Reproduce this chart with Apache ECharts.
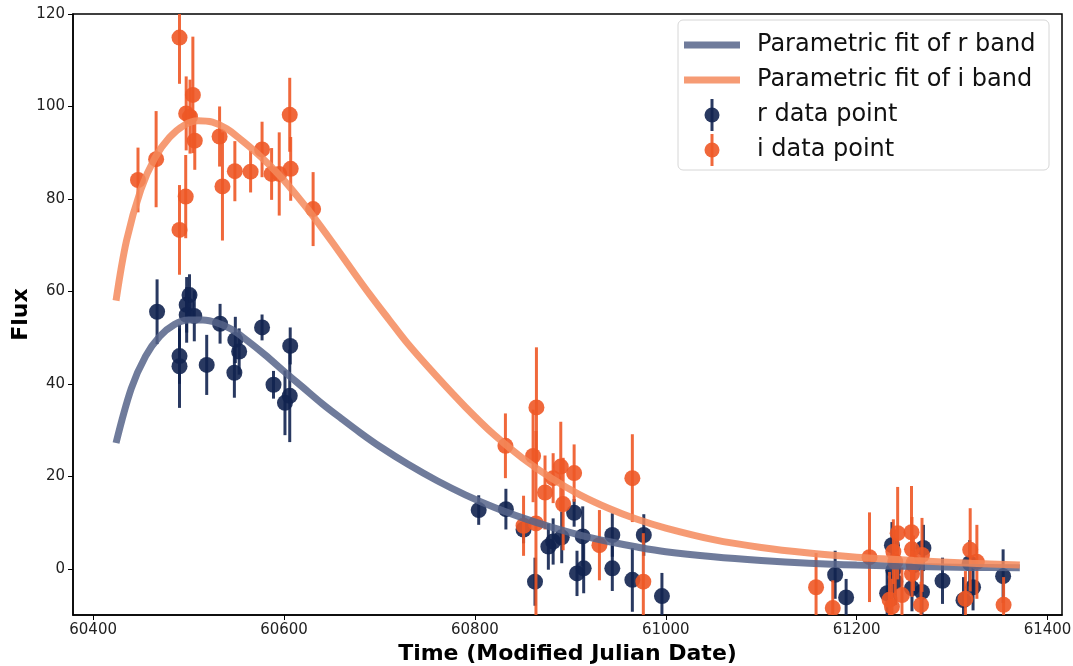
<!DOCTYPE html>
<html>
<head>
<meta charset="utf-8">
<title>Flux light curve</title>
<script src="https://cdn.jsdelivr.net/npm/echarts@6/dist/echarts.min.js"></script>
<style>
  html, body { margin: 0; padding: 0; background: #fff; }
  #chart { width: 1073px; height: 666px; }
</style>
</head>
<body>
<div id="chart"></div>
<script>
// parametric fits
const rFitTime = [60424, 60440, 60455, 60470, 60485, 60500, 60515, 60530, 60545, 60560, 60580, 60600, 60620, 60640, 60660, 60680, 60700, 60730, 60760, 60790, 60820, 60850, 60880, 60910, 60940, 60970, 61000, 61050, 61100, 61150, 61200, 61260, 61320, 61371]
const rFitFlux = [27.2, 39.0, 46.0, 50.3, 52.8, 53.8, 53.8, 53.2, 51.8, 49.6, 46.3, 42.7, 39.2, 35.7, 32.5, 29.4, 26.5, 22.6, 19.1, 16.0, 13.3, 11.0, 9.0, 7.3, 5.9, 4.7, 3.7, 2.6, 1.8, 1.2, 0.8, 0.5, 0.3, 0.2]
const iFitTime = [60424, 60435, 60450, 60465, 60480, 60495, 60510, 60525, 60540, 60555, 60570, 60585, 60600, 60615, 60630, 60650, 60670, 60690, 60710, 60730, 60760, 60790, 60820, 60850, 60880, 60910, 60940, 60970, 61000, 61050, 61100, 61150, 61200, 61260, 61320, 61371]
const iFitFlux = [58, 71, 82, 89, 93.3, 95.9, 96.9, 96.6, 95.2, 92.8, 90.2, 87.3, 84.0, 80.3, 76.4, 70.8, 65.0, 59.3, 53.9, 48.6, 41.6, 35.0, 29.0, 23.9, 19.6, 16.0, 13.1, 10.7, 8.8, 6.3, 4.6, 3.4, 2.5, 1.8, 1.2, 0.8]

// r band observations
const rTime = [60467, 60490.5, 60490.5, 60501, 60498, 60498, 60506, 60519, 60533, 60548, 60549, 60553, 60577, 60589, 60601, 60606.5, 60606,
  60804, 60832.5, 60851, 60863, 60877, 60882, 60891, 60904, 60907, 60913, 60914, 60944, 60944, 60965, 60977, 60996,
  61177.5, 61189, 61232, 61237, 61238.5, 61240.5, 61258, 61260, 61268.5, 61270, 61290, 61312, 61318.5, 61322, 61353.5]
const rFlux = [55.6, 46.0, 43.8, 59.2, 57.1, 54.9, 54.7, 44.1, 53.0, 42.4, 49.5, 47.0, 52.2, 39.8, 35.9, 48.2, 37.4,
  12.7, 12.9, 8.5, -2.8, 4.8, 5.9, 6.8, 12.1, -1.0, 7.0, 0.1, 7.3, 0.1, -2.4, 7.3, -5.9,
  -1.3, -6.2, -5.3, 5.1, -0.3, -2.8, -4.2, 0.8, -5.0, 4.5, -2.6, -6.8, 1.2, -4.0, -1.6]
const rErr = [7, 6, 9, 4.5, 6, 6, 5.5, 6.5, 4.3, 5.4, 5, 5, 2.8, 3, 7, 4, 10,
  3.2, 4.4, 3, 5.2, 5, 5, 5.6, 3, 4.9, 6.5, 5.4, 4.7, 4.9, 6.9, 4.5, 5,
  5.2, 4, 5, 5, 5, 5, 5, 5, 5, 5, 5, 5, 5, 5, 5.8]

// i band observations
const iTime = [60447, 60466, 60490.5, 60490.5, 60497, 60497.5, 60501.5, 60504.5, 60506.5, 60532.5, 60535.5, 60548.5, 60565, 60577, 60587, 60595, 60606, 60607, 60630.5,
  60832, 60851, 60861, 60864.5, 60864, 60873.5, 60882, 60890, 60892.5, 60904, 60930.5, 60965, 60976.5,
  61157.5, 61175, 61213.5, 61234.5, 61237, 61238.5, 61240.5, 61243, 61247.5, 61257.5, 61258, 61259.5, 61258, 61267.5, 61268.5, 61314, 61319, 61326, 61354, 61368]
const iFlux = [84.1, 88.6, 114.9, 73.3, 80.5, 98.5, 97.8, 102.5, 92.6, 93.5, 82.7, 86.0, 85.9, 90.7, 85.4, 85.4, 98.2, 86.5, 77.8,
  26.6, 9.3, 24.4, 34.9, 9.8, 16.5, 19.6, 22.1, 14.0, 20.7, 5.1, 19.6, -2.8,
  -4.0, -8.5, 2.5, -6.7, -8.2, 3.7, 1.5, 7.7, -5.7, 7.9, 4.2, 1.2, -1.1, -7.8, 3.0, -6.5, 4.1, 1.5, -7.8, -14]
const iErr = [7, 10.4, 10, 9.7, 9, 8, 8, 12.6, 6.3, 6.5, 11.7, 6.5, 4.5, 6, 5.6, 9, 8, 6.9, 8,
  7, 6.5, 10, 13, 20, 8, 5.4, 9.7, 10, 6.2, 7.6, 9.5, 10.5,
  7.4, 6, 9.7, 6, 6, 7, 7, 10, 6, 10, 7, 6, 5, 5, 8, 6, 9, 8, 6, 4]

const xTicks = [60400, 60600, 60800, 61000, 61200, 61400]
const yTicks = [0, 20, 40, 60, 80, 100, 120]
const legendNames = ['Parametric fit of r band', 'Parametric fit of i band', 'r data point', 'i data point']

const rColor = 'rgba(18, 36, 80, 0.9)'
const iColor = 'rgba(238, 88, 38, 0.9)'
const rFitColor = 'rgba(86, 100, 138, 0.85)'
const iFitColor = 'rgba(244, 138, 92, 0.85)'
const font = 'DejaVu Sans'

let zip = (a, b, c) => a.map((v, k) => c ? [v, b[k], c[k]] : [v, b[k]])

function errorBars(color) {
  return function (params, api) {
    let x = api.value(0), y = api.value(1), e = api.value(2)
    let c = api.coord([x, y])
    let top = api.coord([x, y + e])
    let bot = api.coord([x, y - e])
    return {
      type: 'group',
      children: [
        { type: 'line', shape: { x1: c[0], y1: top[1], x2: c[0], y2: bot[1] }, style: { stroke: color, lineWidth: 3 } },
        { type: 'circle', shape: { cx: c[0], cy: c[1], r: 8 }, style: { fill: color } }
      ]
    }
  }
}

// legend box drawn by hand (matplotlib style)
function legendGraphic() {
  let items = [{
    type: 'rect', shape: { x: 678, y: 20, width: 371, height: 150, r: 5 },
    style: { fill: '#fff', stroke: '#d6d6d6', lineWidth: 1 }
  }]
  let colors = [rFitColor, iFitColor, rColor, iColor]
  legendNames.forEach((name, k) => {
    let cy = 45 + k * 35
    if (k < 2) {
      items.push({ type: 'rect', shape: { x: 684, y: cy - 3.5, width: 56, height: 7 }, style: { fill: colors[k] } })
    } else {
      items.push({ type: 'line', shape: { x1: 712, y1: cy - 16, x2: 712, y2: cy + 16 }, style: { stroke: colors[k], lineWidth: 3 } })
      items.push({ type: 'circle', shape: { cx: 712, cy: cy, r: 7.5 }, style: { fill: colors[k] } })
    }
    items.push({
      type: 'text', x: 757, y: cy,
      style: { text: name, fill: '#111', font: '24px "DejaVu Sans"', verticalAlign: 'middle', align: 'left' }
    })
  })
  return { type: 'group', z: 100, children: items }
}

let chart = echarts.init(document.getElementById('chart'))
chart.setOption({
  animation: false,
  grid: {
    left: 73, right: 11, top: 14, bottom: 51,
    outerBoundsMode: 'none',
    containLabel: false,
    show: true, borderColor: '#000', borderWidth: 1.5
  },
  graphic: [legendGraphic()],
  xAxis: {
    type: 'value',
    min: 60378.9, max: 61415.2,
    name: 'Time (Modified Julian Date)',
    nameLocation: 'middle', nameGap: 26,
    nameTextStyle: { fontFamily: font, fontSize: 22, fontWeight: 'bold', color: '#000' },
    axisLine: { show: true, onZero: false, lineStyle: { color: '#000', width: 1.5 } },
    axisTick: { show: true, length: 5, customValues: xTicks, lineStyle: { color: '#000' } },
    axisLabel: { customValues: xTicks, formatter: v => String(v), margin: 8, fontFamily: font, fontSize: 15, color: '#222' },
    splitLine: { show: false }
  },
  yAxis: {
    type: 'value',
    min: -10, max: 120,
    name: 'Flux',
    nameLocation: 'middle', nameRotate: 90, nameGap: 41,
    nameMoveOverlap: false,
    nameTextStyle: { fontFamily: font, fontSize: 22, fontWeight: 'bold', color: '#000' },
    axisLine: { show: true, onZero: false, lineStyle: { color: '#000', width: 1.5 } },
    axisTick: { show: true, length: 5, customValues: yTicks, lineStyle: { color: '#000' } },
    axisLabel: { customValues: yTicks, formatter: v => String(v), margin: 8, fontFamily: font, fontSize: 15, color: '#222' },
    splitLine: { show: false }
  },
  series: [
    {
      name: legendNames[0],
      type: 'line',
      data: zip(rFitTime, rFitFlux),
      smooth: 0.35,
      showSymbol: false,
      lineStyle: { color: rFitColor, width: 7 }
    },
    {
      name: legendNames[1],
      type: 'line',
      data: zip(iFitTime, iFitFlux),
      smooth: 0.35,
      showSymbol: false,
      lineStyle: { color: iFitColor, width: 7 }
    },
    {
      name: legendNames[2],
      type: 'custom',
      clip: true,
      renderItem: errorBars(rColor),
      data: zip(rTime, rFlux, rErr)
    },
    {
      name: legendNames[3],
      type: 'custom',
      clip: true,
      renderItem: errorBars(iColor),
      data: zip(iTime, iFlux, iErr)
    }
  ]
})
window.addEventListener('resize', () => chart.resize())
</script>
</body>
</html>
